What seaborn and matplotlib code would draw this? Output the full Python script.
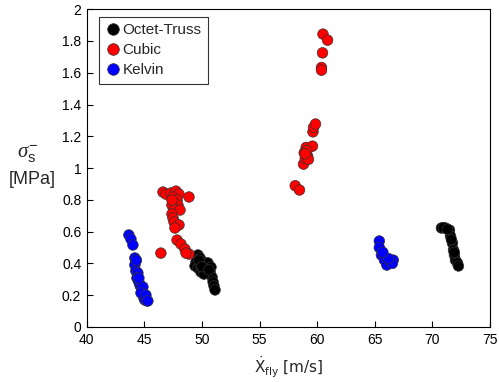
import matplotlib
matplotlib.use("Agg")
import matplotlib.pyplot as plt
import seaborn as sns
import pandas as pd

# ---- data ----
oct_x = [49.65, 49.83, 49.48, 49.39, 49.65, 49.91, 50.09, 50.35, 50.52, 50.78, 50.70, 50.87,
         50.96, 51.04, 51.13, 50.17, 49.83, 49.74, 50.0, 50.6,
         70.78, 71.13, 71.48, 71.57, 71.74, 71.83, 71.91, 72.00, 72.17, 72.26, 70.95, 71.3, 71.65, 71.9]
oct_y = [0.453, 0.434, 0.409, 0.384, 0.371, 0.346, 0.358, 0.403, 0.403, 0.377, 0.346, 0.314,
         0.283, 0.258, 0.233, 0.333, 0.390, 0.420, 0.380, 0.36,
         0.623, 0.623, 0.610, 0.572, 0.528, 0.484, 0.453, 0.421, 0.403, 0.384, 0.625, 0.615, 0.55, 0.47]

cub_x = [46.61, 46.87, 47.30, 47.74, 48.00, 47.48, 47.83, 47.91, 47.39, 47.57, 48.09, 47.39,
         47.48, 47.57, 48.00, 48.87, 47.83, 48.17, 48.52, 48.87, 48.61, 46.43, 47.65, 47.39,
         58.09, 58.46, 58.81, 58.87, 58.96, 59.04, 59.16, 59.24, 59.59, 59.63, 59.68, 59.85,
         60.37, 60.37, 60.46, 60.50, 60.90, 59.1, 58.95]
cub_y = [0.849, 0.836, 0.843, 0.855, 0.836, 0.818, 0.799, 0.767, 0.767, 0.736, 0.736, 0.711,
         0.686, 0.660, 0.642, 0.818, 0.547, 0.522, 0.490, 0.459, 0.465, 0.465, 0.623, 0.799,
         0.889, 0.862, 1.025, 1.096, 1.061, 1.130, 1.075, 1.055, 1.138, 1.228, 1.256, 1.277,
         1.633, 1.616, 1.725, 1.843, 1.805, 1.11, 1.09]

kel_x = [43.65, 43.83, 44.00, 44.17, 44.26, 44.17, 44.26, 44.43, 44.35, 44.52, 44.61, 44.70,
         44.78, 44.87, 44.96, 44.96, 45.04, 45.22, 44.87, 44.52, 44.70, 45.13, 45.3, 44.3,
         65.39, 65.39, 65.57, 65.83, 66.04, 66.35, 66.60, 66.52, 66.2, 65.7]
kel_y = [0.579, 0.553, 0.516, 0.434, 0.415, 0.390, 0.352, 0.340, 0.308, 0.283, 0.264, 0.252,
         0.233, 0.214, 0.201, 0.182, 0.170, 0.164, 0.252, 0.308, 0.214, 0.201, 0.164, 0.42,
         0.541, 0.500, 0.453, 0.421, 0.390, 0.415, 0.421, 0.400, 0.43, 0.47]

groups = ["Octet-Truss", "Cubic", "Kelvin"]
colors = ["#000000", "#ff0000", "#0000ff"]
xticks = [40, 45, 50, 55, 60, 65, 70, 75]
yticks = [0, 0.2, 0.4, 0.6, 0.8, 1.0, 1.2, 1.4, 1.6, 1.8, 2.0]
ytick_labels = ["0", "0.2", "0.4", "0.6", "0.8", "1", "1.2", "1.4", "1.6", "1.8", "2"]

df = pd.DataFrame({
    "x": oct_x + cub_x + kel_x,
    "y": oct_y + cub_y + kel_y,
    "type": [groups[0]] * len(oct_x) + [groups[1]] * len(cub_x) + [groups[2]] * len(kel_x),
})

sns.set_style("white")
plt.rcParams["font.family"] = ["Liberation Sans", "DejaVu Sans"]
plt.rcParams["mathtext.fontset"] = "custom"
plt.rcParams["mathtext.rm"] = "Liberation Sans"
plt.rcParams["mathtext.it"] = "Liberation Serif:italic"

fig = plt.figure(figsize=(4.99, 3.82), dpi=100)
ax = fig.add_axes([0.174, 0.144, 0.808, 0.832])

sns.scatterplot(data=df, x="x", y="y", hue="type", hue_order=groups,
                palette=colors, s=58, edgecolor="#333333", linewidth=0.5, ax=ax)

ax.set_xlim(40, 75)
ax.set_ylim(0, 2)
ax.set_xticks(xticks)
ax.set_yticks(yticks)
ax.set_yticklabels(ytick_labels)
ax.tick_params(axis="both", direction="in", length=4, width=0.8, labelsize=10,
               colors="black", bottom=True, left=True, pad=4)
for sp in ax.spines.values():
    sp.set_color("black")
    sp.set_linewidth(0.8)

ax.set_xlabel(r"$\dot{\mathrm{X}}_{\mathrm{fly}}$ [m/s]", fontsize=11,
              fontfamily="DejaVu Sans", math_fontfamily="dejavusans")
ax.xaxis.set_label_coords(0.5, -0.085)
ax.set_ylabel("")
fig.text(0.056, 0.596, r"$\sigma_{\mathrm{s}}^{-}$", fontsize=15, ha="center", va="center")
fig.text(0.065, 0.530, "[MPa]", fontsize=13, ha="center", va="center")

leg = ax.legend(loc="upper left", bbox_to_anchor=(0.03, 0.975), frameon=True,
                fancybox=False, fontsize=11, handletextpad=0.15, borderpad=0.4,
                labelspacing=0.4, handlelength=1.0, borderaxespad=0.0, markerscale=1.1)
leg.get_frame().set_edgecolor("black")
leg.get_frame().set_linewidth(0.8)

fig.savefig("out.png", dpi=100)
